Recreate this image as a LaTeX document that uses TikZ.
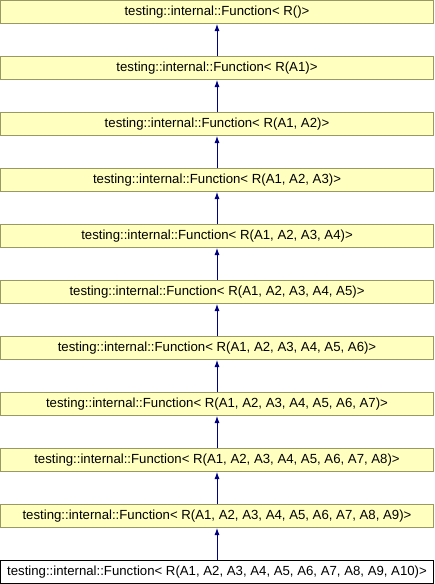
\documentclass[tikz,border=0pt]{standalone}
\usepackage{fontspec}
\setmainfont{Liberation Sans}
\usetikzlibrary{arrows.meta}
\definecolor{boxfill}{HTML}{FFFFC0}
\definecolor{boxline}{HTML}{999966}
\definecolor{arrowblue}{HTML}{000080}
\begin{document}
\begin{tikzpicture}[x=1pt,y=-1pt,
  cls/.style={draw=boxline, fill=boxfill, line width=1pt, minimum width=433pt, minimum height=23pt, inner sep=0pt, font=\fontsize{13.2}{15}\selectfont},
  cur/.style={cls, draw=black, fill=white},
  inh/.style={-{Latex[length=7pt,width=5pt]}, draw=arrowblue, line width=0.9pt}]
\useasboundingbox (0,0) rectangle (434,584);
\node[cls] (f0) at (217,12) {testing::internal::Function< R()>};
\node[cls] (f1) at (217,68) {testing::internal::Function< R(A1)>};
\node[cls] (f2) at (217,124) {testing::internal::Function< R(A1, A2)>};
\node[cls] (f3) at (217,180) {testing::internal::Function< R(A1, A2, A3)>};
\node[cls] (f4) at (217,236) {testing::internal::Function< R(A1, A2, A3, A4)>};
\node[cls] (f5) at (217,292) {testing::internal::Function< R(A1, A2, A3, A4, A5)>};
\node[cls] (f6) at (217,348) {testing::internal::Function< R(A1, A2, A3, A4, A5, A6)>};
\node[cls] (f7) at (217,404) {testing::internal::Function< R(A1, A2, A3, A4, A5, A6, A7)>};
\node[cls] (f8) at (217,460) {testing::internal::Function< R(A1, A2, A3, A4, A5, A6, A7, A8)>};
\node[cls] (f9) at (217,516) {testing::internal::Function< R(A1, A2, A3, A4, A5, A6, A7, A8, A9)>};
\node[cur] (f10) at (217,572) {testing::internal::Function< R(A1, A2, A3, A4, A5, A6, A7, A8, A9, A10)>};
\draw[inh] (f1) -- (f0);
\draw[inh] (f2) -- (f1);
\draw[inh] (f3) -- (f2);
\draw[inh] (f4) -- (f3);
\draw[inh] (f5) -- (f4);
\draw[inh] (f6) -- (f5);
\draw[inh] (f7) -- (f6);
\draw[inh] (f8) -- (f7);
\draw[inh] (f9) -- (f8);
\draw[inh] (f10) -- (f9);
\end{tikzpicture}
\end{document}
